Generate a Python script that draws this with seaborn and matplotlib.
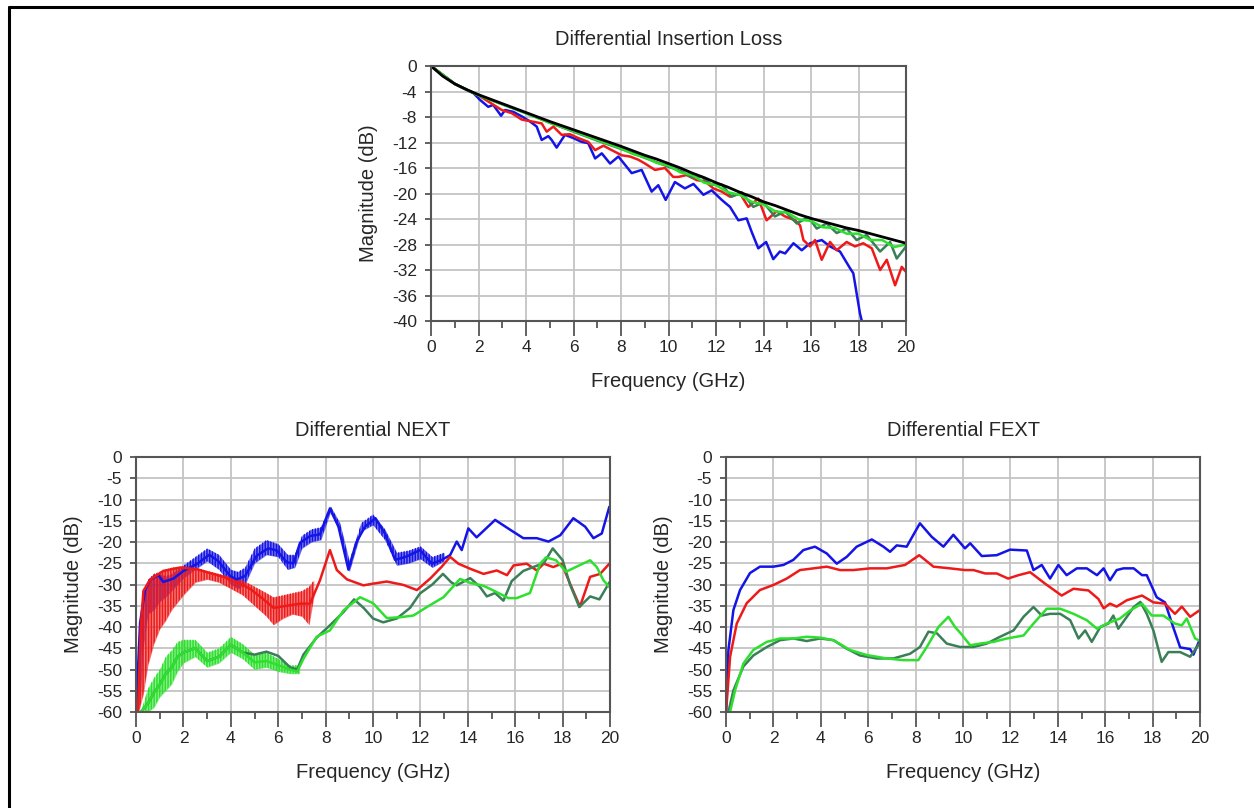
import matplotlib
matplotlib.use("Agg")
import matplotlib.pyplot as plt
from matplotlib.lines import Line2D
from matplotlib.ticker import MultipleLocator
import seaborn as sns

# ---------------- data ----------------
# Differential Insertion Loss
il_ref_x = [0, 0.5, 1, 1.5, 2, 3, 4, 5, 6, 7, 8, 8.5, 9, 9.5, 10, 10.5, 11, 11.5, 12, 12.5, 13,
            13.5, 14, 14.5, 15, 15.5, 16, 16.5, 17, 17.5, 18, 18.5, 19, 19.5, 20]
il_ref_y = [0, -1.6, -2.8, -3.7, -4.5, -5.9, -7.3, -8.7, -10.0, -11.3, -12.6, -13.3, -14.0, -14.6,
            -15.3, -16.0, -16.8, -17.5, -18.3, -19.0, -19.8, -20.5, -21.3, -21.9, -22.6, -23.3,
            -23.9, -24.4, -24.9, -25.4, -25.8, -26.3, -26.8, -27.3, -27.8]

il_green_x = [0, 1, 2, 3, 4, 5, 6, 7, 8, 8.5, 9, 9.5, 10, 10.5, 11, 11.5, 12, 12.5, 13, 13.5, 14,
              14.5, 15, 15.5, 16, 16.5, 17, 17.5, 18, 18.5, 19, 19.5, 20]
il_green_y = [0, -2.8, -4.6, -6.0, -7.4, -8.9, -10.2, -11.6, -12.9, -13.8, -14.3, -15.2, -15.6,
              -16.7, -17.1, -18.3, -18.7, -19.8, -20.2, -21.3, -21.7, -22.8, -23.0, -24.1, -24.3,
              -25.3, -25.4, -26.3, -26.3, -27.3, -27.3, -28.4, -28.0]

il_dkgreen_x = [0, 1, 2, 3, 4, 5, 6, 7, 8, 9, 10, 10.6, 11.0, 11.4, 11.8, 12.24, 12.66, 13.08,
                13.57, 13.99, 14.48, 14.91, 15.4, 15.89, 16.24, 16.66, 17.08, 17.5, 17.92, 18.34,
                18.91, 19.33, 19.61, 20]
il_dkgreen_y = [0, -2.8, -4.6, -6.0, -7.4, -8.9, -10.3, -11.7, -13.0, -14.4, -15.8, -16.6, -17.5,
                -17.4, -18.6, -18.6, -20.5, -19.8, -22.1, -21.4, -23.6, -22.8, -24.7, -23.7, -25.5,
                -24.7, -26.2, -25.5, -27.3, -26.5, -29.1, -27.6, -30.2, -28.3]

il_red_x = [0, 1, 2, 2.55, 2.98, 3.40, 3.82, 4.24, 4.66, 4.87, 5.15, 5.50, 5.85, 6.20, 6.62, 6.91,
            7.26, 7.61, 8.03, 8.38, 8.73, 9.01, 9.43, 9.85, 10.2, 10.41, 10.76, 11.19, 11.54,
            11.89, 12.24, 12.59, 13.01, 13.36, 13.78, 14.13, 14.55, 14.91, 15.33, 15.54, 15.68,
            15.96, 16.17, 16.45, 16.80, 17.08, 17.50, 17.85, 18.20, 18.56, 18.91, 19.19, 19.54,
            19.82, 20]
il_red_y = [0, -2.8, -4.6, -5.9, -6.9, -7.4, -8.4, -8.7, -9.0, -10.3, -9.5, -10.8, -10.7, -11.3,
            -11.9, -13.2, -12.5, -13.2, -14.0, -14.2, -14.7, -15.3, -16.3, -16.0, -17.4, -17.4,
            -17.1, -17.9, -18.1, -19.2, -19.7, -20.5, -20.0, -22.1, -20.8, -24.2, -22.8, -23.6,
            -24.2, -25.0, -27.3, -28.3, -27.3, -30.4, -27.6, -28.9, -27.6, -28.3, -27.8, -28.6,
            -32.0, -30.4, -34.4, -31.5, -32.3]

il_blue_x = [0, 1, 1.8, 2.06, 2.41, 2.62, 2.95, 3.12, 3.47, 3.82, 4.17, 4.45, 4.66, 4.94, 5.08,
             5.29, 5.64, 5.99, 6.34, 6.62, 6.91, 7.19, 7.54, 7.89, 8.45, 8.87, 9.29, 9.57, 9.88,
             10.27, 10.69, 11.05, 11.47, 11.82, 12.24, 12.59, 12.94, 13.29, 13.50, 13.78, 14.11,
             14.41, 14.69, 14.91, 15.26, 15.61, 15.96, 16.45, 16.80, 17.22, 17.64, 17.78, 18.06,
             18.16]
il_blue_y = [0, -2.8, -4.3, -5.3, -6.4, -6.1, -7.8, -6.9, -7.2, -7.9, -8.7, -9.5, -11.6, -11.0,
             -11.6, -12.8, -10.8, -11.3, -11.9, -12.1, -14.5, -13.7, -15.3, -14.2, -16.8, -16.3,
             -19.7, -18.7, -21.0, -18.2, -19.2, -18.5, -20.2, -19.5, -21.0, -22.1, -24.2, -23.9,
             -26.0, -28.6, -27.6, -30.3, -29.1, -29.4, -27.8, -28.9, -27.8, -27.3, -28.3, -29.1,
             -31.7, -32.5, -38.8, -40.3]

# Differential NEXT
nx_blue_x = [0.0, 0.17, 0.38, 0.59, 0.94, 1.15, 1.58, 2.0, 2.56, 3.09, 3.47, 3.97, 4.25, 4.6,
             5.09, 5.58, 5.94, 6.36, 6.64, 6.92, 7.34, 7.76, 8.18, 8.54, 8.96, 9.3, 9.66, 10.1,
             10.5, 10.93, 11.42, 11.98, 12.48, 12.9, 13.25, 13.53, 13.74, 14.02, 14.37, 15.15,
             15.78, 16.34, 16.91, 17.4, 17.9, 18.45, 18.95, 19.3, 19.65, 19.97]
nx_blue_y = [-60, -39, -31.3, -28.9, -27.8, -29.4, -28.6, -26.8, -25.2, -23.0, -24.5, -28.0,
             -28.8, -28.0, -23.2, -21.5, -22.0, -24.8, -25.0, -20.2, -18.6, -18.2, -12.1, -16.4,
             -26.5, -20.0, -16.4, -14.4, -18.0, -24.2, -23.4, -21.9, -25.1, -24.2, -23.1, -19.9,
             -21.9, -16.8, -18.9, -14.8, -17.1, -19.1, -19.1, -19.9, -18.4, -14.4, -16.4, -19.1,
             -18.0, -11.7]
nx_blue_band_x = [0.15, 0.3, 0.5, 0.75, 1.0, 1.25, 1.5, 1.75, 2.0, 2.5, 3.0, 3.5, 4.0, 4.3, 4.6,
                  5.0, 5.5, 6.0, 6.4, 6.7, 7.0, 7.4, 7.8, 8.2, 8.6, 9.0, 9.5, 10.0, 10.5, 11.0,
                  11.5, 12.0, 12.5, 13.0]
nx_blue_band_hi = [-42, -33, -29, -27.5, -27.5, -28, -27.5, -26.5, -25.5, -23.5, -21.5, -23,
                   -26.5, -27, -26, -21.5, -19.5, -20.5, -23, -23, -18.5, -17, -16.5, -11.5,
                   -15.5, -24.5, -15.5, -13.5, -17, -22.5, -22, -21, -23.5, -22.5]
nx_blue_band_lo = [-60, -45, -37, -36, -34, -33, -31.5, -30, -28.5, -26.5, -24.5, -26.5, -30,
                   -31, -30, -25, -23, -23.5, -26.5, -26, -21.5, -20, -19.5, -13, -17.5, -27,
                   -17.5, -16, -19.5, -25.5, -25, -24, -26, -24.5]

nx_red_x = [0.08, 0.2, 0.31, 0.59, 1.15, 1.86, 2.56, 3.12, 3.69, 4.25, 4.81, 5.38, 5.8, 6.36,
            6.92, 7.34, 7.76, 8.18, 8.47, 8.9, 9.59, 10.0, 10.58, 11.28, 11.85, 12.41, 12.9,
            13.25, 13.6, 14.1, 14.66, 15.22, 15.65, 15.93, 16.48, 16.91, 17.2, 17.6, 17.96,
            18.31, 18.73, 19.16, 19.58, 19.97]
nx_red_y = [-60, -40, -31.5, -28.9, -26.8, -26.0, -26.4, -27.3, -28.2, -29.5, -31.0, -33.5,
            -35.5, -35, -34.5, -34.5, -29, -21.9, -26.6, -28.8, -30.2, -29.8, -29.3, -30.1,
            -31.3, -28.6, -25.8, -23.5, -25.1, -26.3, -27.5, -26.7, -27.8, -25.5, -25.1, -26.7,
            -25.1, -25.9, -25.1, -29.8, -35.2, -28.2, -27.5, -25.1]
nx_red_band_x = [0.1, 0.3, 0.5, 0.75, 1.0, 1.25, 1.5, 2.0, 2.5, 3.0, 3.5, 4.0, 4.5, 5.0, 5.5,
                 5.8, 6.2, 6.6, 7.0, 7.3, 7.5]
nx_red_band_hi = [-45, -31.5, -29, -27.5, -27, -26.5, -26, -25.8, -26, -26.8, -27.5, -28.2, -29,
                  -30.5, -32, -33, -32.5, -32, -31.5, -30.5, -29]
nx_red_band_lo = [-60, -56, -49, -44, -40.5, -38.5, -36, -32.5, -29.5, -28.8, -29.5, -31,
                  -32.5, -35, -37.5, -39.5, -38, -37, -37.5, -39.5, -33]

nx_green_x = [0.2, 0.5, 0.75, 1.0, 1.25, 1.5, 1.75, 2.0, 2.5, 3.0, 3.5, 4.0, 4.5, 5.0, 5.5, 6.0,
              6.5, 6.8, 7.06, 7.62, 8.18, 8.75, 9.45, 10.0, 10.58, 11.14, 11.7, 12.27, 12.97,
              13.67, 14.1, 14.66, 15.15, 15.71, 16.06, 16.62, 17.05, 17.3, 17.72, 18.14, 18.7,
              19.16, 19.44, 19.72, 19.97]
nx_green_y = [-60, -58, -55.5, -53.5, -51, -49.5, -47, -46, -45, -48, -47, -44.2, -46, -48.3,
              -48, -49, -50, -50.5, -47.5, -42.3, -40.8, -36.1, -33.0, -34.4, -37.9, -37.7,
              -37.3, -35.3, -33.0, -28.7, -29.6, -30.3, -31.6, -33.2, -33.2, -32.0, -25.1,
              -23.6, -24.3, -27.0, -25.5, -24.3, -25.9, -29.0, -30.6]
nx_green_band_x = [0.2, 0.5, 0.75, 1.0, 1.25, 1.5, 1.75, 2.0, 2.5, 3.0, 3.5, 4.0, 4.5, 5.0, 5.5,
                   6.0, 6.5, 6.9]
nx_green_band_hi = [-60, -54.5, -52, -50, -47, -45.5, -43.5, -43, -43, -46, -45, -42.3, -44,
                    -46.5, -46, -47.5, -49, -49]
nx_green_band_lo = [-60, -60, -59, -56.5, -55, -53.5, -50.5, -48.5, -47, -49.5, -48.5, -46,
                    -47.5, -50, -49.5, -50.5, -51, -51]

nx_dkgreen_x = [0.2, 0.5, 0.75, 1.0, 1.25, 1.5, 1.75, 2.0, 2.5, 3.0, 3.5, 4.0, 4.5, 5.0, 5.5,
                6.0, 6.5, 6.8, 7.06, 7.62, 8.18, 8.75, 9.2, 9.6, 10.0, 10.43, 11.0, 11.56, 11.98,
                12.5, 12.95, 13.3, 13.53, 14.1, 14.5, 14.8, 15.15, 15.5, 15.85, 16.34, 16.9,
                17.2, 17.58, 18.0, 18.31, 18.7, 19.16, 19.55, 19.97]
nx_dkgreen_y = [-60, -58, -55.5, -53.5, -51, -49.5, -47, -46, -45, -48, -47, -44.2, -46, -46.5,
                -45.8, -46.8, -49.5, -50, -46.5, -42.5, -39.6, -36.5, -33.5, -35.5, -38.0,
                -38.9, -38.0, -35.5, -32.1, -30.0, -27.5, -29.5, -30.2, -28.5, -30.5, -32.8,
                -32.0, -33.8, -29.2, -26.8, -25.6, -25.0, -21.5, -24.3, -30.0, -35.3, -32.8,
                -33.5, -29.5]

# Differential FEXT
fx_blue_x = [0, 0.1, 0.31, 0.59, 1.01, 1.43, 2.0, 2.42, 2.84, 3.26, 3.75, 4.25, 4.67, 5.09,
             5.51, 6.15, 6.64, 6.92, 7.2, 7.62, 8.18, 8.68, 9.17, 9.59, 10.08, 10.3, 10.79,
             11.42, 11.98, 12.69, 12.97, 13.32, 13.67, 14.02, 14.37, 14.8, 15.22, 15.65, 15.93,
             16.2, 16.48, 16.77, 17.2, 17.55, 17.75, 18.17, 18.52, 18.87, 19.16, 19.58, 19.72,
             19.97]
fx_blue_y = [-60, -45.4, -36.0, -31.3, -27.3, -25.8, -25.8, -25.4, -24.2, -21.9, -21.1, -22.7,
             -25.1, -23.5, -21.1, -19.4, -21.1, -22.3, -20.8, -21.1, -15.6, -18.8, -21.1, -18.3,
             -21.5, -20.3, -23.3, -23.1, -21.8, -22.0, -26.6, -25.4, -28.6, -25.4, -27.8, -26.2,
             -26.2, -27.8, -26.2, -29.0, -26.6, -26.2, -26.2, -27.8, -27.8, -33.0, -34.2, -40.1,
             -44.8, -45.2, -46.5, -43.2]

fx_red_x = [0, 0.17, 0.45, 0.87, 1.43, 2.0, 2.56, 3.12, 3.69, 4.25, 4.81, 5.37, 6.08, 6.78, 7.55,
            8.15, 8.75, 9.45, 10.08, 10.44, 10.93, 11.42, 11.9, 12.34, 12.83, 13.46, 14.16,
            14.66, 15.29, 15.71, 15.93, 16.2, 16.48, 16.91, 17.55, 18.03, 18.52, 18.94, 19.23,
            19.58, 19.97]
fx_red_y = [-60, -47.0, -39.2, -34.4, -31.3, -30.1, -28.6, -26.6, -26.2, -25.8, -26.6, -26.6,
            -26.2, -26.2, -25.4, -23.1, -25.8, -26.2, -26.6, -26.6, -27.4, -27.4, -28.6, -27.8,
            -27.1, -29.8, -32.6, -31.0, -31.4, -33.4, -35.6, -34.5, -35.2, -33.7, -32.6, -34.2,
            -34.5, -36.9, -35.2, -37.6, -36.1]

fx_dkgreen_x = [0.1, 0.31, 0.73, 1.15, 1.72, 2.28, 2.84, 3.4, 3.97, 4.53, 5.09, 5.65, 6.36,
                7.06, 7.76, 8.18, 8.54, 8.9, 9.31, 9.87, 10.44, 11.0, 11.56, 12.13, 12.55, 12.97,
                13.32, 13.67, 14.1, 14.52, 14.87, 15.15, 15.43, 15.79, 16.13, 16.34, 16.55,
                16.91, 17.2, 17.48, 17.75, 18.03, 18.38, 18.66, 19.16, 19.58, 19.97]
fx_dkgreen_y = [-60, -54.9, -49.3, -46.7, -44.7, -43.1, -42.7, -43.3, -42.7, -43.1, -45.1,
                -46.7, -47.4, -47.4, -46.3, -44.7, -41.1, -41.5, -43.9, -44.7, -44.7, -43.9,
                -42.3, -40.8, -37.6, -35.3, -37.3, -36.9, -36.9, -38.4, -42.7, -40.8, -43.5,
                -40.0, -39.2, -37.3, -40.4, -37.6, -35.3, -34.1, -36.9, -40.8, -48.2, -45.9,
                -45.9, -47.0, -43.9]

fx_green_x = [0.17, 0.38, 0.73, 1.15, 1.72, 2.28, 2.84, 3.4, 3.97, 4.53, 5.23, 5.94, 6.78, 7.48,
              8.11, 8.47, 8.96, 9.38, 9.66, 9.9, 10.3, 10.72, 11.28, 11.85, 12.55, 12.97, 13.53,
              14.1, 14.66, 15.22, 15.65, 16.06, 16.62, 17.05, 17.55, 17.96, 18.45, 18.94, 19.23,
              19.44, 19.79, 19.97]
fx_green_y = [-60, -54.9, -48.6, -45.4, -43.5, -42.7, -42.7, -42.3, -42.5, -43.1, -45.4, -46.6,
              -47.4, -47.8, -47.8, -44.7, -40.0, -37.6, -40.0, -41.5, -44.3, -43.9, -43.5, -42.7,
              -42.0, -39.2, -35.7, -35.7, -36.9, -38.4, -40.4, -39.2, -38.0, -36.1, -34.5, -37.3,
              -37.3, -39.2, -39.6, -38.0, -42.7, -43.2]

# ---------------- style ----------------
BLUE = "#1414e6"
RED = "#ee1a1a"
DKGREEN = "#3a7f58"
GREEN = "#2ee02e"
BLACK = "#000000"

sns.set_theme(style="whitegrid")
plt.rcParams["font.family"] = ["Liberation Sans", "DejaVu Sans"]
plt.rcParams["axes.unicode_minus"] = False
plt.rcParams["grid.color"] = "#c4c4c4"
plt.rcParams["grid.linewidth"] = 1.3
plt.rcParams["axes.edgecolor"] = "#555555"
plt.rcParams["axes.linewidth"] = 1.5
plt.rcParams["hatch.linewidth"] = 1.1

fig = plt.figure(figsize=(12.54, 8.08), dpi=100)
ax_il = fig.add_axes([0.3437, 0.6027, 0.3788, 0.3156])
ax_nx = fig.add_axes([0.1085, 0.1188, 0.378, 0.3156])
ax_fx = fig.add_axes([0.579, 0.1188, 0.378, 0.3156])


def line(ax, x, y, color, lw=1.8):
    sns.lineplot(x=x, y=y, ax=ax, color=color, linewidth=lw, estimator=None, sort=False)


def band(ax, x, lo, hi, color):
    # dense ripple of the measured trace, drawn as a hatched band
    ax.fill_between(x, lo, hi, facecolor=color, alpha=0.55, linewidth=0)
    ax.fill_between(x, lo, hi, facecolor="none", edgecolor=color, hatch="||||||", linewidth=0)


def style(ax, title, ymin, ystep):
    ax.set_xlim(0, 20)
    ax.set_ylim(ymin, 0)
    ax.xaxis.set_major_locator(MultipleLocator(2))
    ax.xaxis.set_minor_locator(MultipleLocator(1))
    ax.yaxis.set_major_locator(MultipleLocator(ystep))
    ax.grid(True, which="major")
    ax.grid(False, which="minor")
    ax.tick_params(axis="x", which="major", direction="out", length=11, width=1.3,
                   color="#555555", labelsize=12.5, pad=3, bottom=True)
    ax.tick_params(axis="x", which="minor", direction="out", length=5, width=1.3,
                   color="#555555", bottom=True)
    ax.tick_params(axis="y", which="major", direction="out", length=4, width=1.3,
                   color="#555555", labelsize=12.5, pad=6, left=True)
    ax.set_title(title, fontsize=14.5, pad=15)
    ax.set_xlabel("Frequency (GHz)", fontsize=14.5, labelpad=12)
    ax.set_ylabel("Magnitude (dB)", fontsize=14.5, labelpad=10)
    for s in ax.spines.values():
        s.set_color("#555555")
        s.set_linewidth(1.5)


# Insertion loss
line(ax_il, il_blue_x, il_blue_y, BLUE)
line(ax_il, il_red_x, il_red_y, RED)
line(ax_il, il_dkgreen_x, il_dkgreen_y, DKGREEN)
line(ax_il, il_green_x, il_green_y, GREEN)
line(ax_il, il_ref_x, il_ref_y, BLACK, lw=2.0)
style(ax_il, "Differential Insertion Loss", -40, 4)

# NEXT
band(ax_nx, nx_blue_band_x, nx_blue_band_lo, nx_blue_band_hi, BLUE)
line(ax_nx, nx_blue_x, nx_blue_y, BLUE)
band(ax_nx, nx_red_band_x, nx_red_band_lo, nx_red_band_hi, RED)
line(ax_nx, nx_red_x, nx_red_y, RED)
line(ax_nx, nx_dkgreen_x, nx_dkgreen_y, DKGREEN)
band(ax_nx, nx_green_band_x, nx_green_band_lo, nx_green_band_hi, GREEN)
line(ax_nx, nx_green_x, nx_green_y, GREEN)
style(ax_nx, "Differential NEXT", -60, 5)

# FEXT
line(ax_fx, fx_blue_x, fx_blue_y, BLUE)
line(ax_fx, fx_red_x, fx_red_y, RED)
line(ax_fx, fx_dkgreen_x, fx_dkgreen_y, DKGREEN)
line(ax_fx, fx_green_x, fx_green_y, GREEN)
style(ax_fx, "Differential FEXT", -60, 5)

# outer frame (only top and left edge visible in the reference)
fig.add_artist(Line2D([0.0072, 1.0], [0.9915, 0.9915], transform=fig.transFigure,
                      color="black", linewidth=2.2))
fig.add_artist(Line2D([0.0072, 0.0072], [0.0, 0.9915], transform=fig.transFigure,
                      color="black", linewidth=2.2))

fig.savefig("out.png", dpi=100)
